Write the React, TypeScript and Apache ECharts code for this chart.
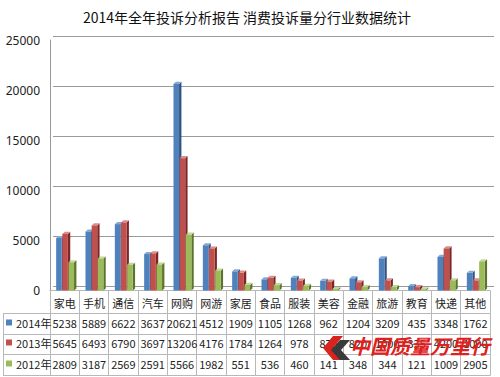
import React, { useEffect, useRef } from "react";
import * as echarts from "echarts";

const title = "2014年全年投诉分析报告 消费投诉量分行业数据统计";
const categories = ["家电", "手机", "通信", "汽车", "网购", "网游", "家居", "食品", "服装", "美容", "金融", "旅游", "教育", "快递", "其他"];
const seriesNames = ["2014年", "2013年", "2012年"];
const v2014 = [5238, 5889, 6622, 3637, 20621, 4512, 1909, 1105, 1268, 962, 1204, 3209, 435, 3348, 1762];
const v2013 = [5645, 6493, 6790, 3697, 13206, 4176, 1784, 1264, 978, 875, 820, 1000, 335, 4200, 1000];
const v2012 = [2809, 3187, 2569, 2591, 5566, 1982, 551, 536, 460, 141, 348, 344, 121, 1009, 2905];
const yTicks = [0, 5000, 10000, 15000, 20000, 25000];
const watermark = "中国质量万里行";

const colors = [
  { front: "#4F81BD", side: "#2f5382", top: "#86a9d8" },
  { front: "#C0504D", side: "#7d2725", top: "#dc8d8b" },
  { front: "#9BBB59", side: "#5d7430", top: "#c3d896" },
];
const offsets = [-0.29, -0.08, 0.13];

function makeRender(idx: number) {
  return (params: any, api: any) => {
    const i = api.value(0);
    const v = api.value(1);
    const top = api.coord([i, v]);
    const base = api.coord([i, 0]);
    const bw = api.size([1, 0])[0];
    const fw = bw * 0.19;
    const d = bw * 0.08;
    const dy = d * 0.9;
    const x = top[0] + offsets[idx] * bw;
    const yT = top[1];
    const yB = base[1];
    const c = colors[idx];
    return {
      type: "group",
      children: [
        {
          type: "polygon",
          shape: { points: [[x + fw, yT], [x + fw + d, yT - dy], [x + fw + d, yB - dy], [x + fw, yB]] },
          style: { fill: c.side },
        },
        {
          type: "polygon",
          shape: { points: [[x, yT], [x + d, yT - dy], [x + fw + d, yT - dy], [x + fw, yT]] },
          style: { fill: c.top },
        },
        {
          type: "rect",
          shape: { x: x, y: yT, width: fw, height: yB - yT },
          style: { fill: c.front },
        },
      ],
    };
  };
}

const font = "'Noto Sans CJK SC', 'Noto Sans', sans-serif";
const lineColor = "#b8b8b8";

export default function App() {
  const ref = useRef<HTMLDivElement>(null);
  useEffect(() => {
    const chart = echarts.init(ref.current!, undefined, { renderer: "svg" });
    const rows = [v2014, v2013, v2012];
    const rowAxis = (offset: number, tickLen: number, margin: number, fmt: (v: any, i: number) => string, showLabel = true) => ({
      type: "category",
      gridIndex: 0,
      data: categories,
      position: "bottom",
      offset,
      axisLine: { show: true, lineStyle: { color: lineColor, width: 1 } },
      axisTick: { show: tickLen > 0, length: tickLen, lineStyle: { color: lineColor } },
      axisLabel: {
        show: showLabel,
        interval: 0,
        margin,
        fontSize: 11,
        color: "#222",
        fontFamily: font,
        formatter: fmt,
      },
      splitLine: { show: false },
    });
    const legendTops = [317, 337, 358];
    chart.setOption({
      animation: false,
      backgroundColor: "#fff",
      title: {
        text: title,
        left: 242,
        textAlign: "center",
        top: 5,
        textStyle: { fontSize: 14, fontWeight: "normal", color: "#111", fontFamily: font },
      },
      legend: seriesNames.map((n, k) => ({
        orient: "horizontal",
        left: 6,
        top: legendTops[k],
        padding: 0,
        itemWidth: 6,
        itemHeight: 6,
        itemGap: 0,
        icon: "rect",
        data: [n],
        selectedMode: false,
        textStyle: { fontSize: 11, color: "#222", fontFamily: font, padding: [0, 0, 0, -1] },
      })),
      grid: [
        { left: 50, right: 10, top: 40, bottom: 86.5 },
        { left: 53, right: 6, top: 36, bottom: 90.5 },
      ],
      xAxis: [
        rowAxis(0, 23, 7, (v: any) => v),
        rowAxis(23, 21, 4, (_v: any, i: number) => String(rows[0][i])),
        rowAxis(44, 20, 3, (_v: any, i: number) => String(rows[1][i])),
        rowAxis(64, 21, 4, (_v: any, i: number) => String(rows[2][i])),
        rowAxis(85, 0, 4, (v: any) => v, false),
        { type: "category", gridIndex: 1, data: categories, show: false },
      ],
      yAxis: [
        {
          type: "value",
          gridIndex: 0,
          min: yTicks[0],
          max: yTicks[yTicks.length - 1],
          interval: 5000,
          axisLine: { show: true, lineStyle: { color: "#999" } },
          axisTick: { show: false },
          splitLine: { show: false },
          axisLabel: {
            margin: 10,
            fontSize: 12,
            color: "#222",
            fontFamily: "'Noto Sans', sans-serif",
            formatter: (v: number) => String(v),
          },
        },
        {
          type: "value",
          gridIndex: 1,
          min: 0,
          max: 25000,
          interval: 5000,
          axisLine: { show: false },
          axisTick: { show: false },
          axisLabel: { show: false },
          splitLine: { show: true, lineStyle: { color: "#9a9a9a", width: 1.2 } },
        },
      ],
      series: [v2014, v2013, v2012].map((vals, idx) => ({
        type: "custom",
        name: seriesNames[idx],
        xAxisIndex: 0,
        yAxisIndex: 0,
        color: colors[idx].front,
        itemStyle: { color: colors[idx].front },
        renderItem: makeRender(idx),
        encode: { x: 0, y: 1 },
        data: vals.map((v, i) => [i, v]),
        z: 3,
      })),
      graphic: [
        { type: "line", shape: { x1: 3, y1: 313.5, x2: 50, y2: 313.5 }, style: { stroke: lineColor } },
        { type: "line", shape: { x1: 3, y1: 334.5, x2: 50, y2: 334.5 }, style: { stroke: lineColor } },
        { type: "line", shape: { x1: 3, y1: 354.5, x2: 50, y2: 354.5 }, style: { stroke: lineColor } },
        { type: "line", shape: { x1: 3, y1: 375.5, x2: 50, y2: 375.5 }, style: { stroke: lineColor } },
        { type: "line", shape: { x1: 3.5, y1: 313.5, x2: 3.5, y2: 375.5 }, style: { stroke: lineColor } },
        {
          type: "polygon",
          shape: { points: [[333, 336], [343, 336], [333, 348], [343, 360], [333, 360], [323, 348]] },
          style: { fill: "#d8231f" },
          z: 20,
        },
        {
          type: "polygon",
          shape: { points: [[340, 340], [350, 340], [341, 350], [350, 360], [340, 360], [331, 350]] },
          style: { fill: "#3a3a3a" },
          z: 20,
        },
        {
          type: "text",
          left: 350,
          top: 335,
          style: {
            text: watermark,
            fontSize: 20,
            fontStyle: "italic",
            fontWeight: "bold",
            fill: "#e0201c",
            fontFamily: font,
          },
          z: 20,
        },
      ],
    });
    return () => chart.dispose();
  }, []);
  return <div ref={ref} style={{ width: 500, height: 377, position: "absolute", left: 0, top: 0 }} />;
}
